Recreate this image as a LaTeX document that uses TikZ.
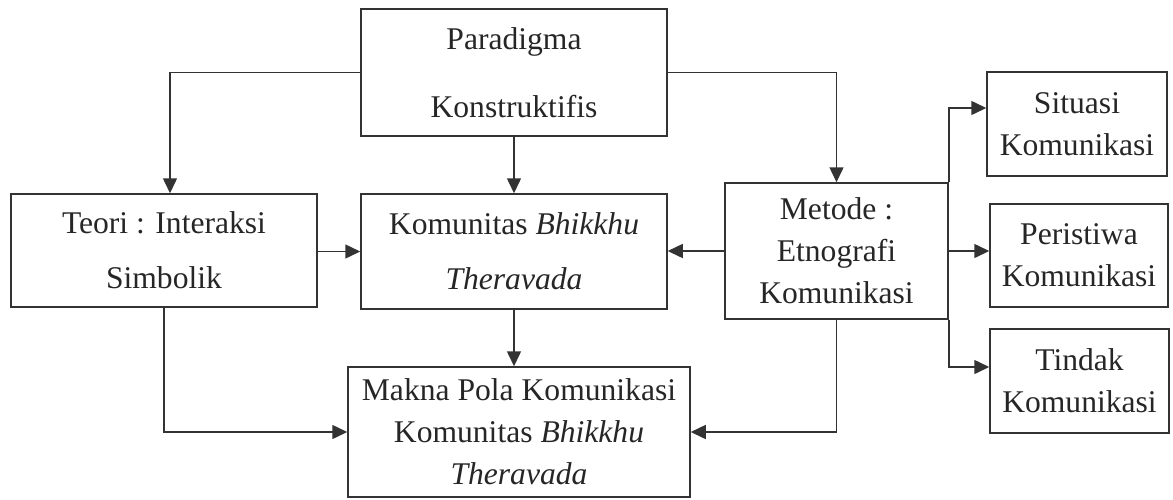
\documentclass[tikz,border=0pt]{standalone}
\usepackage{fontspec}
\setmainfont{Liberation Serif}
\usepackage{tikz}
\usetikzlibrary{arrows.meta}
\usetikzlibrary{calc}

\begin{document}
\begin{tikzpicture}[x=0.5pt,y=-0.5pt,semithick]
	\tikzstyle{kotak}=[draw=black!80, line width=0.75pt, rectangle, inner sep=0pt, align=center, text=black!85,
		font=\fontsize{15.8pt}{21pt}\selectfont]
	\tikzstyle{panah}=[draw=black!80, line width=0.75pt, -{Triangle[length=7.5pt,width=7pt]}]
	\useasboundingbox (0,0) rectangle (1173,499);

	\node[kotak, minimum width=153pt, minimum height=63.5pt] (par) at (514,72.5) {Paradigma\\[13pt]Konstruktifis};
	\node[kotak, minimum width=153pt, minimum height=56.5pt] (teori) at (164,250.5) {Teori : Interaksi\\[6.5pt]Simbolik};
	\node[kotak, minimum width=153pt, minimum height=57.5pt] (kom) at (514,251.5) {Komunitas \textit{Bhikkhu}\\[6.5pt]\textit{Theravada}};
	\node[kotak, minimum width=111.5pt, minimum height=68pt] (met) at (836.5,251) {Metode :\\Etnografi\\Komunikasi};
	\node[kotak, minimum width=171pt, minimum height=65pt] (makna) at (519,432) {Makna Pola Komunikasi\\Komunitas \textit{Bhikkhu}\\\textit{Theravada}};
	\node[kotak, minimum width=90pt, minimum height=52pt] (sit) at (1077,124) {Situasi\\Komunikasi};
	\node[kotak, minimum width=89pt, minimum height=51.5pt] (per) at (1079,255.5) {Peristiwa\\Komunikasi};
	\node[kotak, minimum width=89.5pt, minimum height=52pt] (tin) at (1079.5,381) {Tindak\\Komunikasi};

	% dari paradigma
	\draw[panah] (par.west) -| ([xshift=3pt]teori.north);
	\draw[panah] (par.east) -| (met.north);
	\draw[panah] (par.south) -- (kom.north);

	% ke komunitas dan makna
	\draw[panah] (kom.west -| teori.east) -- (kom.west);
	\draw[panah] (met.west) -- (met.west -| kom.east);
	\draw[panah] (kom.south) -- (kom.south |- makna.north);
	\draw[panah] (teori.south) |- (makna.west);
	\draw[panah] (met.south) |- (makna.east);

	% cabang metode
	\draw[panah] (met.north east) |- ([yshift=8pt]sit.west);
	\draw[panah] (met.east) -- (met.east -| per.west);
	\draw[panah] (met.south east) |- ([yshift=7pt]tin.west);
\end{tikzpicture}
\end{document}
